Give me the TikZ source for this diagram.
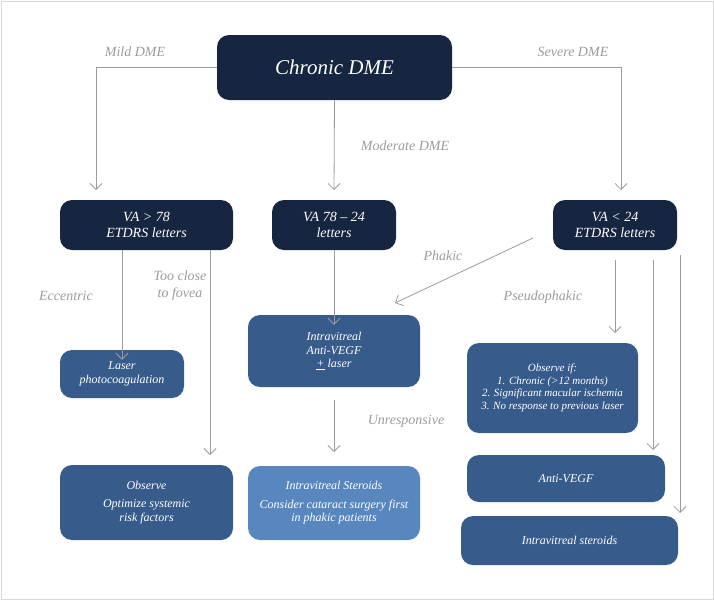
\documentclass[tikz,border=0pt]{standalone}
\usepackage{fontspec}
\setmainfont{Liberation Serif}
\usepackage{tikz}
\usetikzlibrary{arrows.meta,positioning}
\definecolor{mynavy}{RGB}{22,37,64}
\definecolor{mysteel}{RGB}{55,92,140}
\definecolor{mysky}{RGB}{88,135,192}
\definecolor{mygray}{RGB}{155,155,155}
\tikzstyle{box}=[draw=none,fill=mysteel,rounded corners=12pt,text=white,align=center,
  font=\fontsize{12}{13.5}\selectfont\itshape,inner sep=0pt]
\tikzstyle{dark}=[box,fill=mynavy,font=\fontsize{14}{15.5}\selectfont\itshape]
\tikzstyle{lbl}=[text=mygray,font=\fontsize{14}{16}\selectfont\itshape,align=center]
\tikzstyle{link}=[draw=mygray,thick,-{Straight Barb[length=6pt,width=12pt]}]
\begin{document}
\begin{tikzpicture}[x=1pt,y=-1pt]
\useasboundingbox (0,0) rectangle (714,600);
\draw[black!15] (1,1) rectangle (713,599);
% top row
\node [dark, minimum width=235, minimum height=65, font=\fontsize{21}{23}\selectfont\itshape] (dme) at (334.5,67.5) {Chronic DME};
\node [dark, minimum width=173, minimum height=50] (va78) at (146.5,225) {VA > 78\\ETDRS letters};
\node [dark, minimum width=124, minimum height=50] (vamid) at (334,225) {VA 78 -- 24\\letters};
\node [dark, minimum width=124, minimum height=50] (va24) at (615,225) {VA < 24\\ETDRS letters};
% left column
\node [box, minimum width=124, minimum height=48] (laser) at (122,374) {Laser\\photocoagulation};
\node [box, minimum width=173, minimum height=75] (observe) at (146.5,502.5) {Observe\\[5pt]Optimize systemic\\risk factors};
% middle column
\node [box, minimum width=172, minimum height=72] (antivegf) at (334,351) {Intravitreal\\Anti-VEGF\\\underline{+} laser};
\node [box, fill=mysky, minimum width=172, minimum height=74] (steroids) at (334,503) {Intravitreal Steroids\\[5pt]Consider cataract surgery first\\in phakic patients};
% right column
\node [box, minimum width=171, minimum height=90, font=\fontsize{11}{12.5}\selectfont\itshape] (obsif) at (552.5,388) {Observe if:\\1. Chronic (>12 months)\\2. Significant macular ischemia\\3. No response to previous laser};
\node [box, minimum width=198, minimum height=47] (avegf) at (566,478.5) {Anti-VEGF};
\node [box, minimum width=217, minimum height=49] (ivs) at (569.5,540.5) {Intravitreal steroids};
% arrow end points
\coordinate (mildend) at (96,190);
\coordinate (sevend) at (621,190);
\coordinate (modend) at (334,190);
\coordinate (fovea) at (210,0);
\coordinate (foveaend) at (210,455);
\coordinate (phakstart) at (533,238);
\coordinate (phakend) at (395,303);
\coordinate (ps1) at (615,260);
\coordinate (ps1end) at (615,333);
\coordinate (ps2) at (653,260);
\coordinate (ps2end) at (653,450);
\coordinate (ps3) at (680,255);
\coordinate (ps3end) at (680,513);
\coordinate (unresp) at (334,400);
\coordinate (unrespend) at (334,452);
% connectors
\draw [link] (dme.west) -| (mildend);
\draw [link] (dme.east) -| (sevend);
\draw [link] (dme.south) -- (modend);
\node [lbl] at (135,52) {Mild DME};
\node [lbl] at (573,52) {Severe DME};
\node [lbl] at (405,146) {Moderate DME};
\draw [link] (va78.south -| laser.center) -- ([yshift=-10]laser.north);
\draw [link] (va78.south -| fovea) -- (foveaend);
\node [lbl] at (66,296) {Eccentric};
\node [lbl, font=\fontsize{14}{17}\selectfont\itshape] at (180,286) {Too close\\to fovea};
\draw [link] (vamid.south) -- ([yshift=-10]antivegf.north);
\draw [link] (phakstart) -- (phakend);
\node [lbl] at (443,256) {Phakic};
\draw [link] (ps1) -- (ps1end);
\draw [link] (ps2) -- (ps2end);
\draw [link] (ps3) -- (ps3end);
\node [lbl] at (543,297) {Pseudophakic};
\draw [link] (unresp) -- (unrespend);
\node [lbl] at (406,421) {Unresponsive};
\end{tikzpicture}
\end{document}
